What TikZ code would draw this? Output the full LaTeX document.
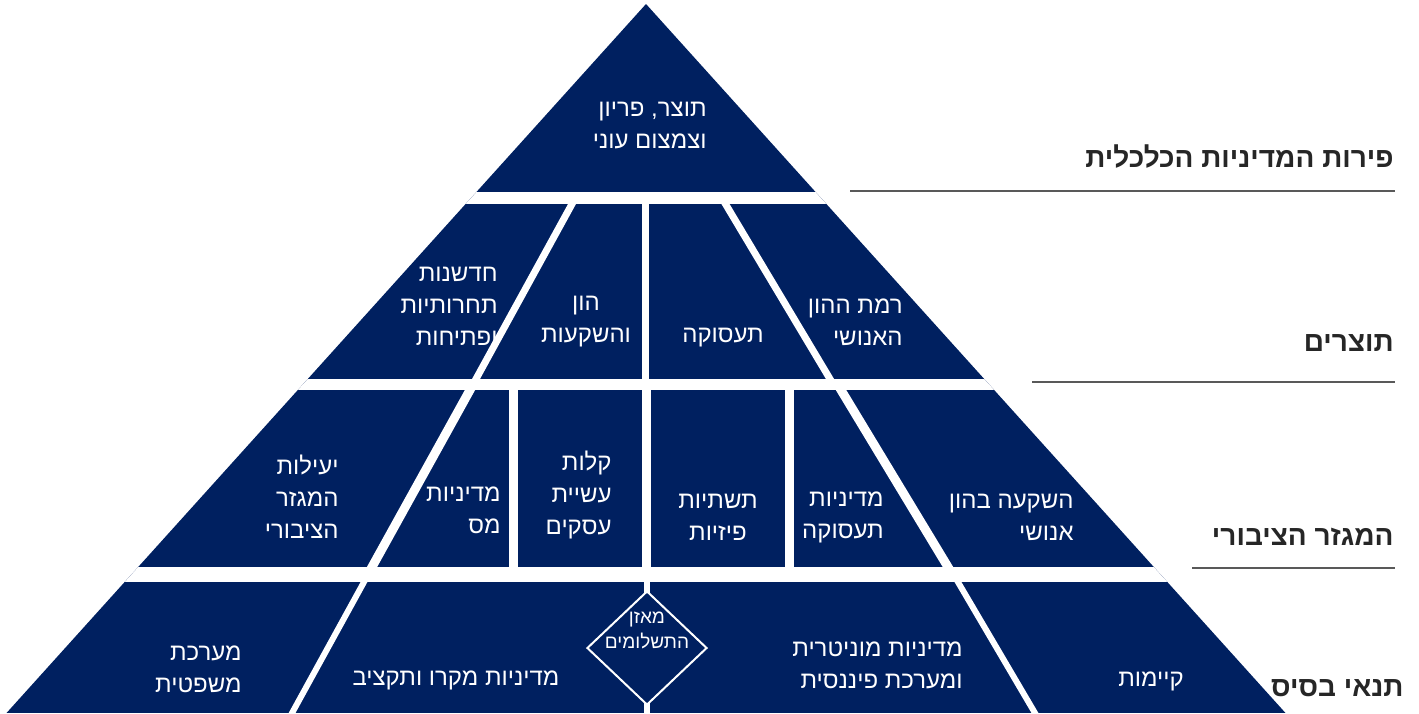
\documentclass[tikz,border=0pt]{standalone}
\usepackage{fontspec}
\setmainfont{Liberation Sans}
\newfontfamily\hebfont[Script=Hebrew]{Liberation Sans}
\usetikzlibrary{shapes.geometric}
\TeXXeTstate=1
\newcommand\heb[1]{\beginR #1\endR}
\definecolor{navy}{HTML}{002060}
\definecolor{rulegray}{HTML}{595959}

\begin{document}
\begin{tikzpicture}[
		x=0.5pt, y=-0.5pt,
		cell/.style={text=white, inner sep=0pt, font=\hebfont\fontsize{12}{16}\selectfont},
		celltxt/.style={cell, anchor=east, align=right},
		cellmid/.style={cell, align=center},
		gap2/.style={white, line width=3.5pt},
		gap3/.style={white, line width=4.5pt},
		gap4/.style={white, line width=3pt},
		tierlabel/.style={anchor=east, inner sep=0pt, text=black!85, font=\hebfont\bfseries\fontsize{14}{17}\selectfont},
		tierrule/.style={draw=rulegray, line width=1pt}
		]
		\useasboundingbox (0,0) rectangle (1419,713);
		
		\coordinate (apex) at (646,4);
		\begin{scope}
			\clip (apex) -- (1290,718) -- (2,718) -- cycle;
			\fill[navy] (0,0) rectangle (1419,713);
			
			\fill[white] (0,192) rectangle (1419,204);
			\fill[white] (0,379) rectangle (1419,390);
			\fill[white] (0,567) rectangle (1419,582);
			
			\draw[gap2] (574.2,200) -- (473.8,383);
			\draw[gap2] (645.5,200) -- (645.5,383);
			\draw[gap2] (723.1,200) -- (832.4,383);
			
			\draw[gap3] (472.2,386) -- (369.8,571);
			\draw[gap3] (513.5,386) -- (513.5,571);
			\draw[gap3] (646.5,386) -- (646.5,571);
			\draw[gap3] (789.5,386) -- (789.5,571);
			\draw[gap3] (838.6,386) -- (950.4,571);
			
			\draw[gap4] (366.2,578) -- (289.3,718);
			\draw[gap4] (647,578) -- (647,718);
			\draw[gap4] (955.6,578) -- (1037.9,718);
		\end{scope}
		
		\node[celltxt] (growth) at (707,125) {\heb{תוצר, פריון}\\\heb{וצמצום עוני}};
		
		\node[celltxt] (innov) at (498,306) {\heb{חדשנות}\\\heb{תחרותיות}\\\heb{ופתיחות}};
		\node[cellmid] (capital) at (586,322) {\heb{הון}\\\heb{והשקעות}};
		\node[cellmid] (employ) at (723,338) {\heb{תעסוקה}};
		\node[celltxt] (human) at (903,322) {\heb{רמת ההון}\\\heb{האנושי}};
		
		\node[celltxt] (effic) at (339,497) {\heb{יעילות}\\\heb{המגזר}\\\heb{הציבורי}};
		\node[celltxt] (tax) at (501,510) {\heb{מדיניות}\\\heb{מס}};
		\node[celltxt] (ease) at (612,495) {\heb{קלות}\\\heb{עשיית}\\\heb{עסקים}};
		\node[cellmid] (infra) at (718,517) {\heb{תשתיות}\\\heb{פיזיות}};
		\node[celltxt] (labor) at (884,517) {\heb{מדיניות}\\\heb{תעסוקה}};
		\node[celltxt] (educ) at (1074,517) {\heb{השקעה בהון}\\\heb{אנושי}};
		
		\node[celltxt] (legal) at (242,669) {\heb{מערכת}\\\heb{משפטית}};
		\node[cellmid] (macro) at (456,680) {\heb{מדיניות מקרו ותקציב}};
		\node[diamond, draw=white, fill=navy, line width=1pt, inner sep=0pt,
		minimum width=60pt, minimum height=57pt] (bop) at (647,648) {};
		\node[cellmid, font=\hebfont\fontsize{9.5}{12.5}\selectfont] (boptxt) at (647,630) {\heb{מאזן}\\\heb{התשלומים}};
		\node[celltxt] (monet) at (963,665) {\heb{מדיניות מוניטרית}\\\heb{ומערכת פיננסית}};
		\node[cellmid] (sustain) at (1151,681) {\heb{קיימות}};
		
		\node[tierlabel] (fruits) at (1394,157) {\heb{פירות המדיניות הכלכלית}};
		\node[tierlabel] (outputs) at (1394,343) {\heb{תוצרים}};
		\node[tierlabel] (public) at (1394,537) {\heb{המגזר הציבורי}};
		\node[tierlabel] (basics) at (1404,688) {\heb{תנאי בסיס}};
		
		\draw[tierrule] (850,191) -- (1395,191);
		\draw[tierrule] (1032,382) -- (1395,382);
		\draw[tierrule] (1192,568) -- (1395,568);
		
	\end{tikzpicture}
\end{document}
